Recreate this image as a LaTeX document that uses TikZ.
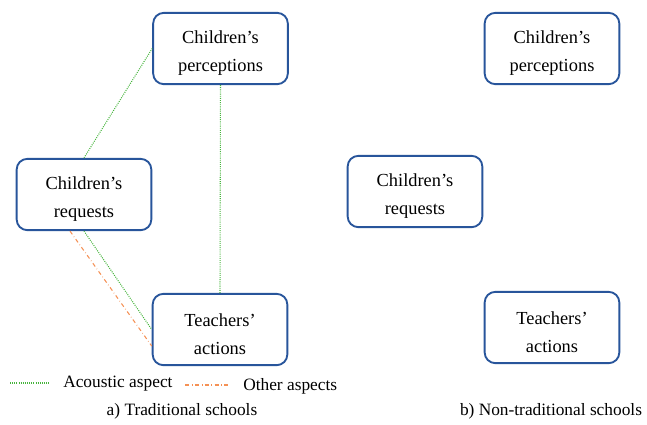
\documentclass[tikz,border=0pt]{standalone}
\usepackage{fontspec}
\setmainfont{Liberation Serif}
\usetikzlibrary{calc}
\definecolor{boxblue}{RGB}{40,85,155}
\definecolor{acgreen}{RGB}{70,180,60}
\definecolor{otorange}{RGB}{245,145,85}
\newcommand{\topgap}{\rule{0pt}{16pt}}
\begin{document}
\begin{tikzpicture}[x=0.75pt,y=-0.75pt]
    \tikzstyle{box}=[draw=boxblue, line width=1.4pt, rounded corners=8pt, align=center,
      minimum width=101pt, minimum height=53.5pt, inner sep=2pt, font=\fontsize{13.8}{21}\selectfont]
    \tikzstyle{acoustic}=[acgreen, dash pattern=on 0.7pt off 0.9pt, line width=0.8pt]
    \tikzstyle{other}=[otorange, dash dot, line width=0.8pt]
    \tikzstyle{label}=[font=\fontsize{13}{15}\selectfont, inner sep=0pt]
    \useasboundingbox (0,0) rectangle (647,425);
    % a) traditional
    \node[box] (p1) at (220.5,48.5){\topgap Children's\\perceptions};
    \node[box] (r1) at (84,194.5){\topgap Children's\\requests};
    \node[box] (t1) at (220,329.5){\topgap Teachers'\\actions};
    \draw[acoustic] (r1.north) -- (p1.west);
    \draw[acoustic] (p1.south) -- (t1.north);
    \draw[acoustic] (r1.south) -- (t1.west);
    \draw[other] ([xshift=-10.5pt]r1.south) -- ([yshift=-12.4pt]t1.west);
    % b) non-traditional
    \node[box] (p2) at (552,48.5){\topgap Children's\\perceptions};
    \node[box] (r2) at (415,191.5){\topgap Children's\\requests};
    \node[box] (t2) at (552,327.5){\topgap Teachers'\\actions};
    % legend
    \coordinate (g1) at (10,383);
    \coordinate (g2) at (50,383);
    \coordinate (o1) at (185,385);
    \coordinate (o2) at (228,385);
    \draw[acoustic] (g1) -- (g2);
    \draw[other] (o1) -- (o2);
    \node[label, anchor=west] (la) at (63,384){Acoustic aspect};
    \node[label, anchor=west] (lo) at (243,386){Other aspects};
    % captions
    \node[label] (ca) at (182,411){a) Traditional schools};
    \node[label] (cb) at (551,411){b) Non-traditional schools};
\end{tikzpicture}
\end{document}
